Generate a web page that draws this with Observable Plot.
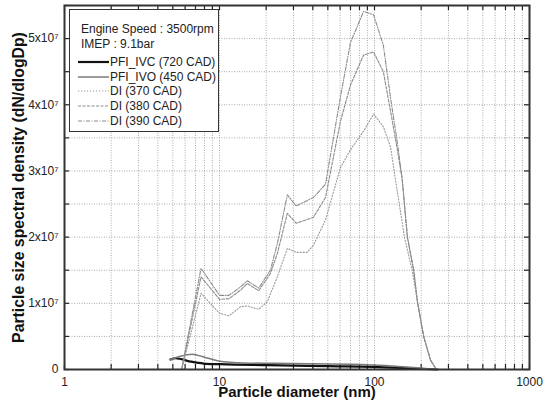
<!DOCTYPE html>
<html><head><meta charset="utf-8">
<script src="https://cdn.jsdelivr.net/npm/d3@7"></script>
<script src="https://cdn.jsdelivr.net/npm/@observablehq/plot@0.6"></script>
<style>
body{margin:0;background:#fff;}
#wrap{position:relative;width:545px;height:407px;font-family:"Liberation Sans",Arial,sans-serif;color:#222;}
#legend{position:absolute;left:69px;top:9px;width:150px;height:123px;border:1px solid #333;background:#fff;box-sizing:border-box;}
#legend .row{position:absolute;left:0;height:14px;line-height:14px;font-size:12px;white-space:nowrap;}
#legend svg{position:absolute;left:8px;top:0;}
#legend .t{position:absolute;left:40px;top:0;}
</style></head><body><div id="wrap"></div>
<script>
// ---- data (diameter in nm, density in dN/dlogDp) ----
const ivcD = [4.83, 5.2, 6.5, 7.9, 10.1, 20.4, 49.7, 98.6, 179, 255];
const ivcV = [0.15e7, 0.17e7, 0.12e7, 0.09e7, 0.08e7, 0.065e7, 0.05e7, 0.04e7, 0.015e7, 0];

const ivoD = [4.83, 5.6, 6.67, 7.9, 9.85, 14.3, 30, 81.2, 179, 255];
const ivoV = [0.15e7, 0.2e7, 0.23e7, 0.19e7, 0.13e7, 0.1e7, 0.09e7, 0.075e7, 0.03e7, 0];

const di370D = [5.7, 7.6, 10, 11.5, 13.7, 15.1, 17.9, 20.3, 23.6, 27.4, 31.2, 36.8, 40.4, 48.3, 60.3, 70, 85, 98.6, 114, 127, 136.5, 156, 175, 190, 208, 230, 248];
const di370V = [0, 1.15e7, 0.85e7, 0.81e7, 0.95e7, 0.96e7, 0.91e7, 1.02e7, 1.40e7, 1.83e7, 1.77e7, 1.77e7, 1.88e7, 2.26e7, 3.05e7, 3.32e7, 3.6e7, 3.86e7, 3.67e7, 3.36e7, 2.87e7, 2.0e7, 1.5e7, 1.0e7, 0.49e7, 0.14e7, 0.02e7];

const di380D = [5.7, 7.6, 10, 11.5, 13.7, 15.1, 17.9, 21.3, 23.6, 27.4, 31.2, 40.4, 48.3, 60.3, 70, 85, 98.6, 114, 127, 141, 151, 163, 179, 190, 208, 230, 248];
const di380V = [0, 1.40e7, 1.06e7, 1.07e7, 1.20e7, 1.30e7, 1.19e7, 1.45e7, 1.75e7, 2.36e7, 2.21e7, 2.3e7, 2.6e7, 3.75e7, 4.3e7, 4.75e7, 4.8e7, 4.5e7, 3.9e7, 3.3e7, 2.87e7, 2.0e7, 1.5e7, 1.0e7, 0.49e7, 0.14e7, 0.02e7];

const di390D = [5.7, 7.6, 10, 11.5, 13.7, 15.1, 17.9, 21.3, 23.6, 27.4, 31.2, 40.4, 48.3, 60.3, 70, 85, 98.6, 114, 127, 141, 151, 163, 179, 190, 208, 230, 248];
const di390V = [0, 1.53e7, 1.12e7, 1.12e7, 1.25e7, 1.34e7, 1.23e7, 1.5e7, 1.9e7, 2.64e7, 2.47e7, 2.6e7, 2.8e7, 4.12e7, 4.94e7, 5.41e7, 5.36e7, 4.9e7, 4.1e7, 3.4e7, 2.87e7, 2.0e7, 1.5e7, 1.0e7, 0.49e7, 0.14e7, 0.02e7];

const xTicks = [1, 10, 100, 1000];
const xTickLabels = ["1", "10", "100", "1000"];
const yTicks = [0, 1e7, 2e7, 3e7, 4e7, 5e7];
const yTickLabels = ["0", "1x10\u2077", "2x10\u2077", "3x10\u2077", "4x10\u2077", "5x10\u2077"];

const seriesNames = ["PFI_IVC (720 CAD)", "PFI_IVO (450 CAD)", "DI (370 CAD)", "DI (380 CAD)", "DI (390 CAD)"];
const headerLines = ["Engine Speed : 3500rpm", "IMEP : 9.1bar"];

// ---- build ----
const toRows = (D, V) => D.map((d, i) => ({d, v: V[i]}));
const styles = [
  {stroke: "#111", strokeWidth: 2.2, dash: null, curve: "monotone-x"},
  {stroke: "#7a7a7a", strokeWidth: 1.5, dash: null, curve: "monotone-x"},
  {stroke: "#9a9a9a", strokeWidth: 1.1, dash: "1.2,1.8", curve: "linear"},
  {stroke: "#8c8c8c", strokeWidth: 1.1, dash: "3,1.5", curve: "linear"},
  {stroke: "#8c8c8c", strokeWidth: 1.1, dash: "4,1.5,1,1.5", curve: "linear"}
];
const series = [toRows(ivcD, ivcV), toRows(ivoD, ivoV), toRows(di370D, di370V), toRows(di380D, di380V), toRows(di390D, di390V)];

const W = 545, H = 407, mL = 64, mR = 16, mT = 5, mB = 38;
const innerW = W - mL - mR, innerH = H - mT - mB;
const minorX = [];
[1, 10, 100].forEach(b => { for (let k = 1; k < 10; k++) minorX.push(b * k); });
minorX.push(1000);
const gridXv = minorX.filter(v => v > 1 && v < 1000);
const yMinor = d3.range(0, 5.5e7 + 1, 0.5e7);
const gridYv = yMinor.filter(v => v > 0 && v < 5.5e7);

const lineMarks = series.map((rows, i) => Plot.line(rows, {
  x: "d", y: "v", stroke: styles[i].stroke, strokeWidth: styles[i].strokeWidth,
  strokeDasharray: styles[i].dash, curve: styles[i].curve
}));

const chart = Plot.plot({
  width: W, height: H,
  marginLeft: mL, marginRight: mR, marginTop: mT, marginBottom: mB,
  style: {fontFamily: "'Liberation Sans', Arial, sans-serif", fontSize: "12px", color: "#222", background: "#fff"},
  x: {type: "log", domain: [1, 1000], label: null},
  y: {domain: [0, 5.5e7], label: null},
  marks: [
    Plot.gridX(gridXv, {stroke: "#8a8a8a", strokeOpacity: 0.9, strokeDasharray: "1,1.5", strokeWidth: 0.8}),
    Plot.gridY(gridYv, {stroke: "#8a8a8a", strokeOpacity: 0.9, strokeDasharray: "1,1.5", strokeWidth: 0.8}),
    Plot.tickX(minorX, {x: d => d, insetTop: innerH - 5, stroke: "#222", strokeWidth: 1.2}),
    Plot.tickX(minorX, {x: d => d, insetBottom: innerH - 5, stroke: "#222", strokeWidth: 1.2}),
    Plot.tickY(yMinor, {y: d => d, insetRight: innerW - 5, stroke: "#222", strokeWidth: 1.2}),
    Plot.tickY(yMinor, {y: d => d, insetLeft: innerW - 5, stroke: "#222", strokeWidth: 1.2}),
    ...lineMarks,
    Plot.frame({stroke: "#333", strokeWidth: 2}),
    Plot.axisX({ticks: xTicks, tickFormat: d => xTickLabels[xTicks.indexOf(d)], tickSize: 0, tickPadding: 8, fontSize: 12, label: null}),
    Plot.axisY({ticks: yTicks, tickFormat: d => yTickLabels[yTicks.indexOf(d)], tickSize: 0, tickPadding: 6, fontSize: 12, label: null}),
    Plot.text(["Particle diameter (nm)"], {frameAnchor: "bottom", dy: 23, text: d => d, fontSize: 15, fontWeight: "bold", lineAnchor: "middle", textAnchor: "middle", fill: "#111"}),
    Plot.text(["Particle size spectral density (dN/dlogDp)"], {frameAnchor: "left", dx: -46, rotate: -90, text: d => d, fontSize: 15.8, fontWeight: "bold", lineAnchor: "middle", textAnchor: "middle", fill: "#111"})
  ]
});

const wrap = document.getElementById("wrap");
wrap.appendChild(chart);

// ---- legend (inside plot, top-left) ----
const lg = document.createElement("div");
lg.id = "legend";
const headerY = [19, 34];
headerLines.forEach((t, i) => {
  const r = document.createElement("div");
  r.className = "row";
  r.style.top = (headerY[i] - 7) + "px";
  r.style.left = "11px";
  r.textContent = t;
  lg.appendChild(r);
});
const rowY = [52, 66.5, 81, 96, 110.5];
seriesNames.forEach((name, i) => {
  const r = document.createElement("div");
  r.className = "row";
  r.style.top = (rowY[i] - 7) + "px";
  r.style.width = "148px";
  const s = styles[i];
  r.innerHTML = `<svg width="31" height="14"><line x1="0" y1="7" x2="31" y2="7" stroke="${s.stroke}" stroke-width="${s.strokeWidth}" ${s.dash ? `stroke-dasharray="${s.dash}"` : ""}/></svg><span class="t">${name}</span>`;
  lg.appendChild(r);
});
wrap.appendChild(lg);
</script>
</body></html>
